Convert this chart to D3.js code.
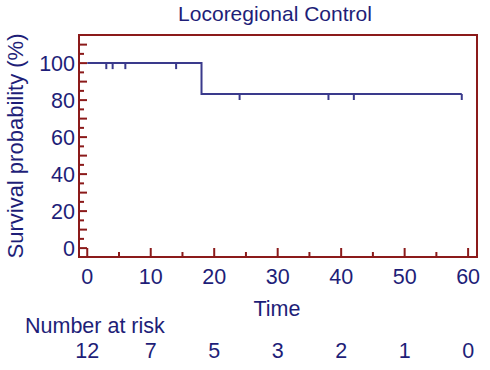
<!DOCTYPE html>
<html>
<head>
<meta charset="utf-8">
<script src="https://cdn.jsdelivr.net/npm/d3@7"></script>
<style>
  body { margin: 0; background: #fff; }
  svg { display: block; font-family: Arial, "Liberation Sans", sans-serif; }
</style>
</head>
<body>
<svg id="chart" width="490" height="370"></svg>
<script>
// Kaplan-Meier curve, locoregional control

const stepTimes = [0, 18];
const stepSurvival = [100, 83.3];
const followUpEnd = 59;
const censorTimes = [3, 4, 6, 14, 24, 38, 42, 59];

const xTicks = [0, 10, 20, 30, 40, 50, 60];
const yTicks = [0, 20, 40, 60, 80, 100];
const riskCounts = [12, 7, 5, 3, 2, 1, 0];

const textColor = '#1e1e78';
const axisColor = '#8b1a1a';
const lineColor = '#3a3a8c';
const fontSize = '21.5px';

const svg = d3.select('#chart');

const x = d3.scaleLinear().domain([-1.3, 61.4]).range([79, 477]);
const y = d3.scaleLinear().domain([-4.8, 115.2]).range([257, 35]);

// survival at time t from the step function
function survAt(t) {
    let s = stepSurvival[0];
    stepTimes.forEach((st, i) => { if (t >= st) s = stepSurvival[i]; });
    return s;
}

// title
svg.append('text')
    .attr('x', 275)
    .attr('y', 21)
    .attr('text-anchor', 'middle')
    .style('fill', textColor)
    .style('font-size', '21px')
    .text('Locoregional Control');

// frame
svg.append('rect')
    .attr('x', x.range()[0])
    .attr('y', y.range()[1])
    .attr('width', x.range()[1] - x.range()[0])
    .attr('height', y.range()[0] - y.range()[1])
    .style('fill', 'none')
    .style('stroke', axisColor)
    .style('stroke-width', 2);

// y ticks (inward), every 5 with major every 10
const yAll = d3.range(0, 115, 5);
svg.append('g')
    .selectAll('line')
    .data(yAll)
    .enter()
    .append('line')
    .attr('x1', x.range()[0])
    .attr('x2', d => x.range()[0] + (d % 10 === 0 ? 8 : 5))
    .attr('y1', d => y(d))
    .attr('y2', d => y(d))
    .style('stroke', axisColor)
    .style('stroke-width', 2);

svg.append('g')
    .selectAll('text')
    .data(yTicks)
    .enter()
    .append('text')
    .attr('x', 75)
    .attr('y', d => y(d) + 7.5)
    .attr('text-anchor', 'end')
    .style('fill', textColor)
    .style('font-size', fontSize)
    .text(d => d);

// x ticks (inward)
const xAll = d3.range(0, 61, 5);
svg.append('g')
    .selectAll('line')
    .data(xAll)
    .enter()
    .append('line')
    .attr('x1', d => x(d))
    .attr('x2', d => x(d))
    .attr('y1', y.range()[0])
    .attr('y2', d => y.range()[0] - (d % 10 === 0 ? 9 : 5))
    .style('stroke', axisColor)
    .style('stroke-width', 2);

svg.append('g')
    .selectAll('text')
    .data(xTicks)
    .enter()
    .append('text')
    .attr('x', d => x(d))
    .attr('y', 284)
    .attr('text-anchor', 'middle')
    .style('fill', textColor)
    .style('font-size', fontSize)
    .text(d => d);

// axis titles
svg.append('text')
    .attr('x', 277)
    .attr('y', 316)
    .attr('text-anchor', 'middle')
    .style('fill', textColor)
    .style('font-size', fontSize)
    .text('Time');

svg.append('text')
    .attr('transform', 'translate(23, 146) rotate(-90)')
    .attr('text-anchor', 'middle')
    .style('fill', textColor)
    .style('font-size', '22px')
    .text('Survival probability (%)');

// survival curve
const pts = [];
stepTimes.forEach((t, i) => {
    if (i > 0) pts.push([t, stepSurvival[i - 1]]);
    pts.push([t, stepSurvival[i]]);
});
pts.push([followUpEnd, stepSurvival[stepSurvival.length - 1]]);

svg.append('path')
    .datum(pts)
    .attr('d', d3.line().x(d => x(d[0])).y(d => y(d[1])))
    .style('fill', 'none')
    .style('stroke', lineColor)
    .style('stroke-width', 2);

// censor marks
svg.append('g')
    .selectAll('line')
    .data(censorTimes)
    .enter()
    .append('line')
    .attr('x1', d => x(d))
    .attr('x2', d => x(d))
    .attr('y1', d => y(survAt(d)))
    .attr('y2', d => y(survAt(d)) + 6)
    .style('stroke', lineColor)
    .style('stroke-width', 2);

// number at risk table
svg.append('text')
    .attr('x', 25)
    .attr('y', 333)
    .style('fill', textColor)
    .style('font-size', fontSize)
    .text('Number at risk');

svg.append('g')
    .selectAll('text')
    .data(riskCounts)
    .enter()
    .append('text')
    .attr('x', (d, i) => x(xTicks[i]))
    .attr('y', 358)
    .attr('text-anchor', 'middle')
    .style('fill', textColor)
    .style('font-size', fontSize)
    .text(d => d);
</script>
</body>
</html>
